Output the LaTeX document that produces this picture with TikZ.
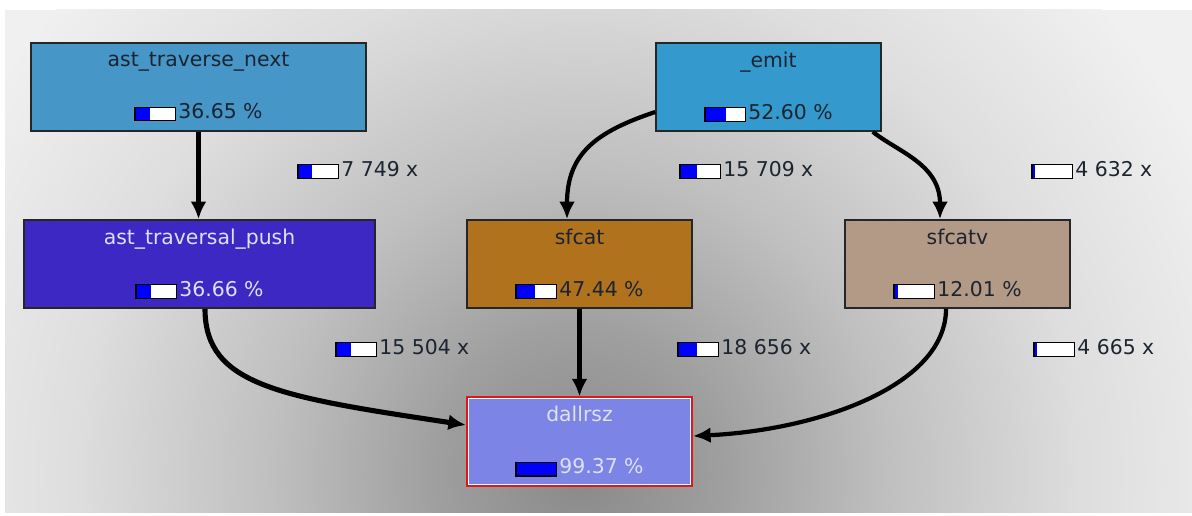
\documentclass[tikz,border=0pt]{standalone}
\usepackage{fontspec}
\setmainfont{DejaVu Sans}
\usetikzlibrary{arrows.meta}
\usetikzlibrary{calc}

\definecolor{travnext}{RGB}{70,150,200}
\definecolor{emitcol}{RGB}{52,153,204}
\definecolor{travpush}{RGB}{62,40,196}
\definecolor{sfcatcol}{RGB}{176,114,28}
\definecolor{sfcatvcol}{RGB}{178,154,134}
\definecolor{dallcol}{RGB}{124,132,230}
\definecolor{darktxt}{RGB}{28,36,48}
\definecolor{lighttxt}{RGB}{222,224,245}
\definecolor{edgered}{RGB}{230,20,20}

\pgfdeclareradialshading{glow}{\pgfpoint{0bp}{0bp}}{%
  color(0bp)=(black!46); color(5bp)=(black!38); color(11bp)=(black!25);
  color(18bp)=(black!13); color(25bp)=(black!6); color(50bp)=(black!6)}

% little percentage bar: #1 = filled part in cm (out of 0.78)
\newcommand{\pbar}[1]{\raisebox{-0.9pt}{\setlength{\fboxsep}{0pt}\setlength{\fboxrule}{0.7pt}%
  \fcolorbox{black}{white}{\makebox[0.78cm][l]{\textcolor{blue}{\rule{#1cm}{0.25cm}}}}}\hspace{1.5pt}}

\begin{document}
\begin{tikzpicture}[x=0.02cm,y=0.02cm]
	\tikzstyle{fn}=[rectangle,draw=black!85,line width=0.9pt,minimum height=1.76cm,
		align=center,font=\fontsize{11.6}{13}\selectfont,text=darktxt]
	\tikzstyle{calls}=[anchor=west,inner sep=0pt,font=\fontsize{11.6}{13}\selectfont,text=darktxt]
	\tikzstyle{arc}=[line width=2.4pt,-{Latex[length=10pt,width=9pt]}]
	\useasboundingbox (0,0) rectangle (1192,515);
	% background panel with the dark glow round the bottom node
	\fill[black!6] (5,3) rectangle (1192,505);
	\begin{scope}
		\clip (5,3) rectangle (1192,505);
		\shade[shading=glow] (579,40) circle (700);
	\end{scope}
	% functions
	\node[fn,fill=travnext,minimum width=6.7cm] (atn) at (198.5,428)
		{ast\_traverse\_next\\[0.58cm]\pbar{0.29}36.65 \%};
	\node[fn,fill=emitcol,minimum width=4.5cm] (emit) at (768.5,428)
		{\_emit\\[0.58cm]\pbar{0.41}52.60 \%};
	\node[fn,fill=travpush,minimum width=7.02cm,text=lighttxt] (atp) at (199.5,251)
		{ast\_traversal\_push\\[0.58cm]\pbar{0.29}36.66 \%};
	\node[fn,fill=sfcatcol,minimum width=4.5cm] (sfcat) at (579.5,251)
		{sfcat\\[0.58cm]\pbar{0.37}47.44 \%};
	\node[fn,fill=sfcatvcol,minimum width=4.5cm] (sfcatv) at (957.5,251)
		{sfcatv\\[0.58cm]\pbar{0.06}12.01 \%};
	\node[fn,fill=dallcol,draw=edgered,line width=1.2pt,minimum width=4.5cm,text=lighttxt] (dall) at (579.5,73.5)
		{dallrsz\\[0.58cm]\pbar{0.78}99.37 \%};
	\draw[white,line width=0.6pt] ($(dall.south west)+(1.3pt,1.3pt)$) rectangle ($(dall.north east)-(1.3pt,1.3pt)$);
	% call counts
	\node[calls] (c1) at (297,345) {\pbar{0.27}7 749 x};
	\node[calls] (c2) at (679,345) {\pbar{0.33}15 709 x};
	\node[calls] (c3) at (1031,345) {\pbar{0.05}4 632 x};
	\node[calls] (c4) at (335,167) {\pbar{0.29}15 504 x};
	\node[calls] (c5) at (677,167) {\pbar{0.37}18 656 x};
	\node[calls] (c6) at (1033,167) {\pbar{0.05}4 665 x};
	% calls
	\draw[arc] (atn.south) -- (atn.south |- atp.north);
	\draw[arc] ([yshift=-0.5cm]emit.west) .. controls +(-60,-20) and +(0,65) .. ([xshift=-0.25cm]sfcat.north);
	\draw[arc] ([xshift=-0.18cm]emit.south east) .. controls +(25,-20) and +(0,55) .. ([xshift=-0.35cm]sfcatv.north);
	\draw[arc,line width=2.9pt] ([xshift=0.11cm]atp.south) .. controls +(0,-77) and +(-185,28) .. ([yshift=0.33cm]dall.west);
	\draw[arc] (sfcat) -- (dall);
	\draw[arc] ([xshift=-0.23cm]sfcatv.south) .. controls +(0,-77) and +(125,6) .. ([yshift=0.11cm]dall.east);
\end{tikzpicture}
\end{document}
